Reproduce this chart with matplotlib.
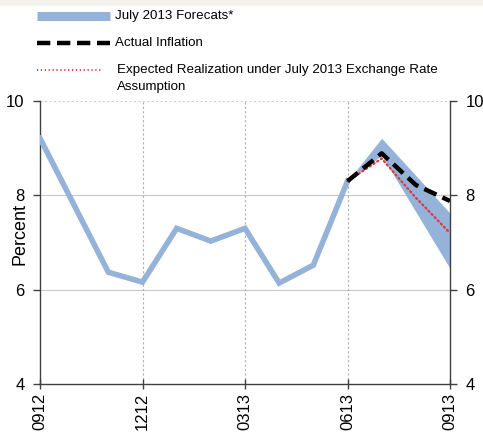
import matplotlib
matplotlib.use('Agg')
import matplotlib.pyplot as plt
from matplotlib.lines import Line2D
from matplotlib.patches import Rectangle

plt.rcParams['font.family'] = ['Liberation Sans', 'DejaVu Sans']

# monthly positions, 0912 .. 0913
months = ['0912', '1012', '1112', '1212', '0113', '0213', '0313',
          '0413', '0513', '0613', '0713', '0813', '0913']
tick_labels = ['0912', '1212', '0313', '0613', '0913']

# realised inflation up to 0613
hist = [9.21, 7.79, 6.37, 6.16, 7.30, 7.03, 7.30, 6.14, 6.52, 8.30]
# forecast band 0613 .. 0913
band_upper = [8.30, 9.21, 8.42, 7.62]
band_lower = [8.30, 8.85, 7.65, 6.45]
actual = [8.30, 8.89, 8.22, 7.88]
expected = [8.30, 8.78, 7.95, 7.20]

blue = '#95b3d9'
x_hist = list(range(len(hist)))
x_fc = list(range(len(hist) - 1, len(months)))

fig = plt.figure(figsize=(4.83, 4.32), dpi=100)
fig.patch.set_facecolor('white')
fig.add_artist(Rectangle((0, 1 - 5 / 432), 1, 5 / 432, transform=fig.transFigure,
                         color='#f4f2ec', zorder=0))
ax = fig.add_axes([40 / 483, 1 - 384 / 432, 410 / 483, 283 / 432])

ax.fill_between(x_fc, band_lower, band_upper, color=blue, lw=0, zorder=2)
ax.plot(x_hist, hist, color=blue, lw=4, solid_joinstyle='miter', zorder=3)
ax.plot(x_fc, expected, color='#e8323c', lw=1.6, ls=(0, (0.6, 1.4)),
        dash_capstyle='round', zorder=4)
ax.plot(x_fc, actual, color='black', lw=3.2, ls=(0, (3, 1.5)), zorder=5)

ax.set_xlim(0, len(months) - 1)
ax.set_ylim(4, 10)
ax.set_yticks([4, 6, 8, 10])
ax.set_xticks([months.index(m) for m in tick_labels])
ax.set_xticklabels(tick_labels, rotation=90)

for y in [6, 8]:
    ax.axhline(y, color='#c8c8c8', lw=0.8, zorder=1)
ax.axhline(10, color='#d0d0d0', lw=0.8, ls=(0, (2, 2)), zorder=1)
for m in ['1212', '0313', '0613']:
    ax.axvline(months.index(m), color='#b0b0b0', lw=0.8, ls=(0, (2, 2)), zorder=1)

ax.spines['top'].set_visible(False)
for s in ['left', 'right', 'bottom']:
    ax.spines[s].set_color('#404040')
    ax.spines[s].set_linewidth(1.0)
ax.tick_params(axis='y', direction='out', length=5, width=1, color='#404040',
               labelsize=12, right=True, labelright=True, pad=6)
ax.tick_params(axis='x', direction='inout', length=7, width=1, color='#404040',
               labelsize=12, pad=3)
ax.set_ylabel('Percent', fontsize=13)
ax.yaxis.set_label_coords(-0.028, 0.53)

# legend keys above plot
def fx(px):
    return px / 483

def fy(px):
    return 1 - px / 432

fig.add_artist(Line2D([fx(37), fx(110)], [fy(16), fy(16)], color=blue, lw=6.5,
                      solid_capstyle='butt', transform=fig.transFigure))
fig.add_artist(Line2D([fx(37), fx(110)], [fy(43), fy(43)], color='black', lw=3.2,
                      ls=(0, (3, 1.5)), transform=fig.transFigure))
fig.add_artist(Line2D([fx(37), fx(103)], [fy(70), fy(70)], color='#e8323c', lw=1.4,
                      ls=(0, (0.6, 1.4)), transform=fig.transFigure))
fig.text(fx(115), fy(16), 'July 2013 Forecats*', fontsize=9.6, va='center')
fig.text(fx(115), fy(43), 'Actual Inflation', fontsize=9.6, va='center')
fig.text(fx(117), fy(70), 'Expected Realization under July 2013 Exchange Rate',
         fontsize=9.6, va='center')
fig.text(fx(117), fy(87), 'Assumption', fontsize=9.6, va='center')

fig.savefig('out.png', dpi=100)
